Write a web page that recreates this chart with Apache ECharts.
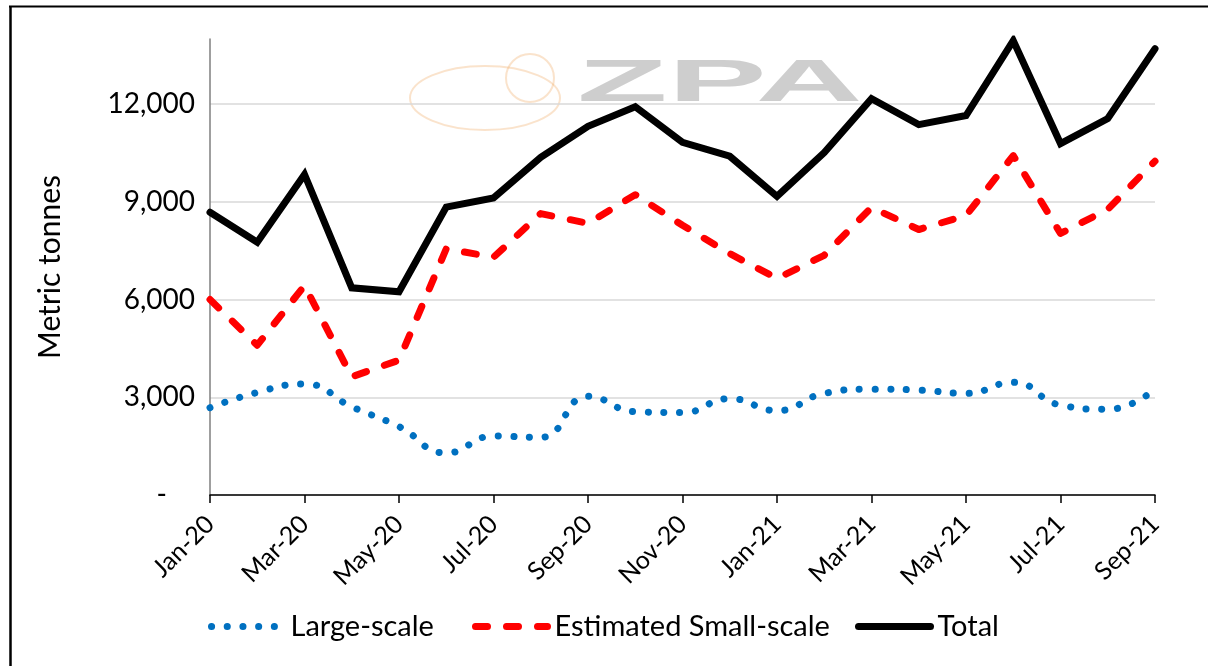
<!DOCTYPE html>
<html>
<head>
<meta charset="utf-8">
<script src="https://cdn.jsdelivr.net/npm/echarts@6/dist/echarts.min.js"></script>
<style>
html,body{margin:0;padding:0;background:#fff;}
#chart{width:1208px;height:666px;}
</style>
</head>
<body>
<div id="chart"></div>
<script>
const categories = ['Jan-20','Feb-20','Mar-20','Apr-20','May-20','Jun-20','Jul-20','Aug-20','Sep-20','Oct-20','Nov-20','Dec-20',
  'Jan-21','Feb-21','Mar-21','Apr-21','May-21','Jun-21','Jul-21','Aug-21','Sep-21'];
const largeScale = [2680, 3150, 3410, 2710, 2100, 1290, 1810, 1770, 3030, 2560, 2530, 2960, 2590, 3120, 3250, 3220, 3120, 3460, 2760, 2630, 3250];
const smallScale = [6000, 4600, 6430, 3630, 4140, 7560, 7300, 8640, 8340, 9220, 8280, 7410, 6650, 7360, 8830, 8150, 8580, 10420, 8030, 8770, 10250];
const total = [8680, 7760, 9840, 6360, 6240, 8840, 9120, 10370, 11320, 11920, 10830, 10400, 9170, 10510, 12170, 11370, 11650, 13950, 10790, 11560, 13700];
const seriesNames = ['Large-scale', 'Estimated Small-scale', 'Total'];
const yTitle = 'Metric tonnes';

const FONT = 'Lato';
const chart = echarts.init(document.getElementById('chart'));
const dotStyle = { color: '#0070C0', width: 7, type: [0.1, 15.6], cap: 'round' };
const dashStyle = { color: '#FF0000', width: 7, type: [12, 19], cap: 'round', join: 'round' };
const solidStyle = { color: '#000', width: 7, cap: 'round', join: 'miter' };
const legendBase = {
  top: 612, padding: 0, itemWidth: 72, itemHeight: 14, itemGap: 0,
  textStyle: { fontFamily: FONT, fontSize: 29, color: '#000', padding: [0, 0, 0, 2] },
  itemStyle: { opacity: 0 },
  selectedMode: false
};
chart.setOption({
  animation: false,
  backgroundColor: '#fff',
  grid: { left: 210, right: 53, top: 39, bottom: 171, containLabel: false },
  xAxis: {
    type: 'category', data: categories, boundaryGap: false,
    axisLine: { lineStyle: { color: '#000', width: 1.5 } },
    axisTick: { show: true, interval: 1, length: 8, lineStyle: { color: '#000', width: 1.5 } },
    axisLabel: { interval: 1, rotate: 45, margin: 25, fontFamily: FONT, fontSize: 25, color: '#000' },
    splitLine: { show: false }
  },
  yAxis: {
    type: 'value', min: 0, max: 14000, interval: 3000,
    name: yTitle, nameLocation: 'middle', nameRotate: 90, nameGap: 145,
    nameTextStyle: { fontFamily: FONT, fontSize: 30, color: '#000' },
    axisLine: { show: true, lineStyle: { color: '#7f7f7f', width: 1.5 } },
    axisTick: { show: false },
    axisLabel: {
      showMaxLabel: false, margin: 15, fontFamily: FONT, fontSize: 28, color: '#000',
      formatter: v => v === 0 ? '-\u2002\u2002' : v.toLocaleString('en-US')
    },
    splitLine: { show: true, lineStyle: { color: ['#d9d9d9','#d9d9d9','#d9d9d9','#d9d9d9','#d9d9d9','rgba(0,0,0,0)'], width: 1.5 } }
  },
  legend: [
    Object.assign({}, legendBase, { left: 208, data: [seriesNames[0]], lineStyle: dotStyle }),
    Object.assign({}, legendBase, { left: 472, data: [seriesNames[1]], lineStyle: dashStyle }),
    Object.assign({}, legendBase, { left: 855, data: [seriesNames[2]], lineStyle: solidStyle })
  ],
  graphic: [
    { type: 'line', shape: { x1: 9, y1: 6.5, x2: 1208, y2: 6.5 }, style: { stroke: '#000', lineWidth: 2 }, silent: true },
    { type: 'line', shape: { x1: 10.5, y1: 6, x2: 10.5, y2: 666 }, style: { stroke: '#000', lineWidth: 2.5 }, silent: true },
    { type: 'ellipse', shape: { cx: 485, cy: 98, rx: 75, ry: 32 }, style: { fill: 'none', stroke: 'rgba(240,175,110,0.35)', lineWidth: 2 }, silent: true, z: -1 },
    { type: 'circle', shape: { cx: 530, cy: 78, r: 24 }, style: { fill: 'none', stroke: 'rgba(240,175,110,0.35)', lineWidth: 2 }, silent: true, z: -1 },
    { type: 'text', x: 577, y: 55, scaleX: 2.65, scaleY: 1.05, silent: true, z: -1,
      style: { text: 'ZPA', font: 'bold 56px "Liberation Sans"', fill: 'rgba(190,190,190,0.75)' } }
  ],
  series: [
    { name: seriesNames[0], type: 'line', data: largeScale, symbol: 'none', smooth: true, z: 3,
      lineStyle: dotStyle, itemStyle: { color: '#0070C0' } },
    { name: seriesNames[1], type: 'line', data: smallScale, symbol: 'none', z: 4,
      lineStyle: dashStyle, itemStyle: { color: '#FF0000' } },
    { name: seriesNames[2], type: 'line', data: total, symbol: 'none', z: 5,
      lineStyle: solidStyle, itemStyle: { color: '#000' } }
  ]
});
</script>
</body>
</html>
